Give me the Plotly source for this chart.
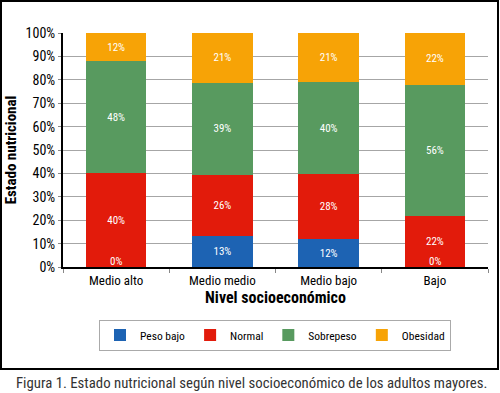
import plotly.graph_objects as go

categories = ["Medio alto", "Medio medio", "Medio bajo", "Bajo"]
peso_bajo = [0, 13, 12, 0]
normal = [40, 26, 28, 22]
sobrepeso = [48, 39, 40, 56]
obesidad = [12, 21, 21, 22]
y_ticks = [0, 10, 20, 30, 40, 50, 60, 70, 80, 90, 100]
y_tick_labels = [f"{v}%" for v in y_ticks]

series = [
    ("Peso bajo", peso_bajo, "#1d63b3"),
    ("Normal", normal, "#e21b0b"),
    ("Sobrepeso", sobrepeso, "#589a5f"),
    ("Obesidad", obesidad, "#f7a306"),
]

FONT = "Roboto Condensed, Roboto, sans-serif"
W, H = 500, 393
px = lambda x: x / W
py = lambda y: 1 - y / H

fig = go.Figure()
for name, vals, col in series:
    fig.add_trace(go.Bar(
        name=name, x=categories, y=vals, marker=dict(color=col, line=dict(width=0)),
        text=[f"{v}%" for v in vals], textposition="inside", insidetextanchor="middle",
        textfont=dict(color="white", size=11, family=FONT), textangle=0,
        constraintext="none", cliponaxis=False,
    ))

# zero-value labels at the base of the stacks
for c, v in zip(categories, peso_bajo):
    if v == 0:
        fig.add_annotation(x=c, y=0, xref="x", yref="y", text=f"{v}%", showarrow=False,
                           yanchor="bottom", yshift=-3, font=dict(color="white", size=11, family=FONT))

fig.update_layout(
    width=W, height=H, barmode="stack", barnorm="percent", bargap=0.43,
    margin=dict(l=0, r=0, t=0, b=0),
    paper_bgcolor="white", plot_bgcolor="white",
    font=dict(family=FONT, color="black"),
    xaxis=dict(domain=[px(63), px(488)], automargin=False, showline=True, linecolor="black", linewidth=2,
               ticks="outside", tickson="boundaries", ticklen=4, tickcolor="#888",
               tickfont=dict(size=13, family=FONT),
               title=dict(text="<b>Nivel socioeconómico</b>", font=dict(size=16, family=FONT), standoff=5)),
    yaxis=dict(domain=[py(267), py(33)], automargin=False, range=[0, 100.05], tickvals=y_ticks, ticktext=y_tick_labels,
               showline=True, linecolor="black", linewidth=2, ticks="outside", ticklen=3, tickcolor="#888",
               showgrid=True, gridcolor="#a6a6a6", gridwidth=1, zeroline=False,
               tickfont=dict(size=14, family=FONT),
               title=dict(text="<b>Estado nutricional</b>", font=dict(size=15, family=FONT), standoff=5)),
    legend=dict(orientation="h", x=px(275), y=py(335), xanchor="center", yanchor="middle",
                bordercolor="#aaa", borderwidth=1, font=dict(size=11.5, family=FONT),
                traceorder="normal", itemwidth=30),
    showlegend=True,
)

fig.add_shape(type="rect", xref="paper", yref="paper", x0=px(1), x1=px(498), y0=py(369), y1=py(1),
              line=dict(color="black", width=2), fillcolor="rgba(0,0,0,0)", layer="above")
fig.add_annotation(xref="paper", yref="paper", x=px(14), y=py(383), xanchor="left", yanchor="middle",
                   text="Figura 1. Estado nutricional según nivel socioeconómico de los adultos mayores.",
                   showarrow=False, font=dict(size=14.8, family=FONT, color="#333"))

fig.write_html("out.html", config={"displayModeBar": False},
               post_script="document.body.style.margin='0';document.body.style.overflow='hidden';")
